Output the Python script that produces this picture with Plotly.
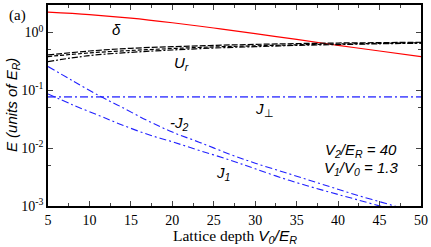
import plotly.graph_objects as go

V0 = [5, 10, 15, 20, 25, 30, 35, 40, 45, 50]
delta = [2.26, 2.05, 1.78, 1.48, 1.20, 0.96, 0.76, 0.60, 0.48, 0.384]
Ur_a = [0.41, 0.48, 0.535, 0.57, 0.60, 0.625, 0.645, 0.66, 0.67, 0.68]
Ur_b = [0.385, 0.445, 0.49, 0.53, 0.565, 0.59, 0.615, 0.635, 0.65, 0.665]
Ur_c = [0.315, 0.40, 0.455, 0.50, 0.54, 0.57, 0.60, 0.62, 0.64, 0.655]
J_perp = [0.077] * 10
V0_J = [5, 8, 11.3, 13.7, 17, 20, 23.3, 27, 30, 34.1, 38, 42, 46.8, 50]
J2 = [0.259, 0.146, 0.079, 0.053, 0.030, 0.019, 0.0126, 0.0078, 0.0055, 0.0036, 0.0024, 0.00158, 0.0010, 0.00072]
J1 = [0.087, 0.056, 0.036, 0.026, 0.0174, 0.0129, 0.0091, 0.0062, 0.0044, 0.00278, 0.0019, 0.00132, 0.00085, 0.00063]

x_ticks = [5, 10, 15, 20, 25, 30, 35, 40, 45, 50]
y_ticks = [0.001, 0.01, 0.1, 1]
y_labels = ["10<sup>-3</sup>", "10<sup>-2</sup>", "10<sup>-1</sup>", "10<sup>0</sup>"]

blue_l = "#5c5cff"
blue_d = "#2020ff"

fig = go.Figure()
fig.add_trace(go.Scatter(x=V0, y=delta, mode="lines", line=dict(color="#ff0000", width=1.2), line_shape="spline"))
fig.add_trace(go.Scatter(x=V0, y=Ur_a, mode="lines", line=dict(color="black", width=1.2, dash="6px,2px"), line_shape="spline"))
fig.add_trace(go.Scatter(x=V0, y=Ur_b, mode="lines", line=dict(color="black", width=1.2, dash="4px,2px"), line_shape="spline"))
fig.add_trace(go.Scatter(x=V0, y=Ur_c, mode="lines", line=dict(color="black", width=1.2, dash="6px,2px,2px,2px"), line_shape="spline"))
fig.add_trace(go.Scatter(x=V0, y=J_perp, mode="lines", line=dict(color=blue_l, width=1.8, dash="8px,3px,2px,3px")))
fig.add_trace(go.Scatter(x=V0_J, y=J2, mode="lines", line=dict(color=blue_d, width=1.1, dash="7px,3px,2px,3px"), line_shape="spline"))
fig.add_trace(go.Scatter(x=V0_J, y=J1, mode="lines", line=dict(color=blue_d, width=1.1, dash="7px,3px,2px,3px"), line_shape="spline"))

serif = "Liberation Serif"
sans = "Liberation Sans"

fig.update_layout(
    width=431, height=247,
    margin=dict(l=48, r=9, t=3, b=41),
    paper_bgcolor="white", plot_bgcolor="white",
    showlegend=False,
    xaxis=dict(range=[5, 50], tickvals=x_ticks, ticks="inside", ticklen=5, tickwidth=1,
               showline=True, linecolor="black", linewidth=1.5, mirror="allticks",
               showgrid=False, zeroline=False,
               minor=dict(tickvals=[7.5, 12.5, 17.5, 22.5, 27.5, 32.5, 37.5, 42.5, 47.5], ticks="inside", ticklen=3),
               tickfont=dict(family=serif, size=14, color="black")),
    yaxis=dict(type="log", range=[-3, 0.477], tickvals=y_ticks, ticktext=y_labels,
               ticks="inside", ticklen=5, tickwidth=1,
               showline=True, linecolor="black", linewidth=1.5, mirror="allticks",
               showgrid=False, zeroline=False,
               minor=dict(tickvals=[0.005, 0.05, 0.5], ticks="inside", ticklen=3),
               tickfont=dict(family=serif, size=14, color="black")),
)

ann = dict(showarrow=False, xref="paper", yref="paper", xanchor="center", yanchor="middle",
           font=dict(family=sans, size=15, color="black"))


def px(xp, yp):
    return dict(x=(xp - 48) / 374, y=(206 - yp) / 203.3)


fig.add_annotation(text="(a)", x=-0.11, y=1.0, xanchor="left", yanchor="top",
                   xref="paper", yref="paper", showarrow=False, font=dict(family=serif, size=15, color="black"))
fig.add_annotation(text="<i>δ</i>", **px(117, 27), **ann)
fig.add_annotation(text="<i>U<sub>r</sub></i>", **px(182, 62), **ann)
fig.add_annotation(text="<i>J</i><sub>⊥</sub>", **px(265, 108), **ann)
fig.add_annotation(text="<i>-J<sub>2</sub></i>", **px(180, 123), **ann)
fig.add_annotation(text="<i>J<sub>1</sub></i>", **px(223, 173), **ann)
fig.add_annotation(text="<i>V<sub>2</sub>/E<sub>R</sub> = 40</i>", **px(362, 150), **ann)
fig.add_annotation(text="<i>V<sub>1</sub>/V<sub>0</sub> = 1.3</i>", **px(362, 168), **ann)
fig.add_annotation(text="<i>E (units of E<sub>R</sub>)</i>", x=-0.095, y=0.5, textangle=-90,
                   xanchor="center", yanchor="middle", xref="paper", yref="paper", showarrow=False,
                   font=dict(family=sans, size=15, color="black"))
fig.add_annotation(text="Lattice depth <span style='font-family:Liberation Sans'><i>V<sub>0</sub>/E<sub>R</sub></i></span>",
                   x=0.5, y=-0.152, xanchor="center", yanchor="middle", xref="paper", yref="paper", showarrow=False,
                   font=dict(family=serif, size=15.5, color="black"))

fig.write_html("out.html", config={"displayModeBar": False},
               post_script="document.body.style.margin='0';document.body.style.padding='0';")
